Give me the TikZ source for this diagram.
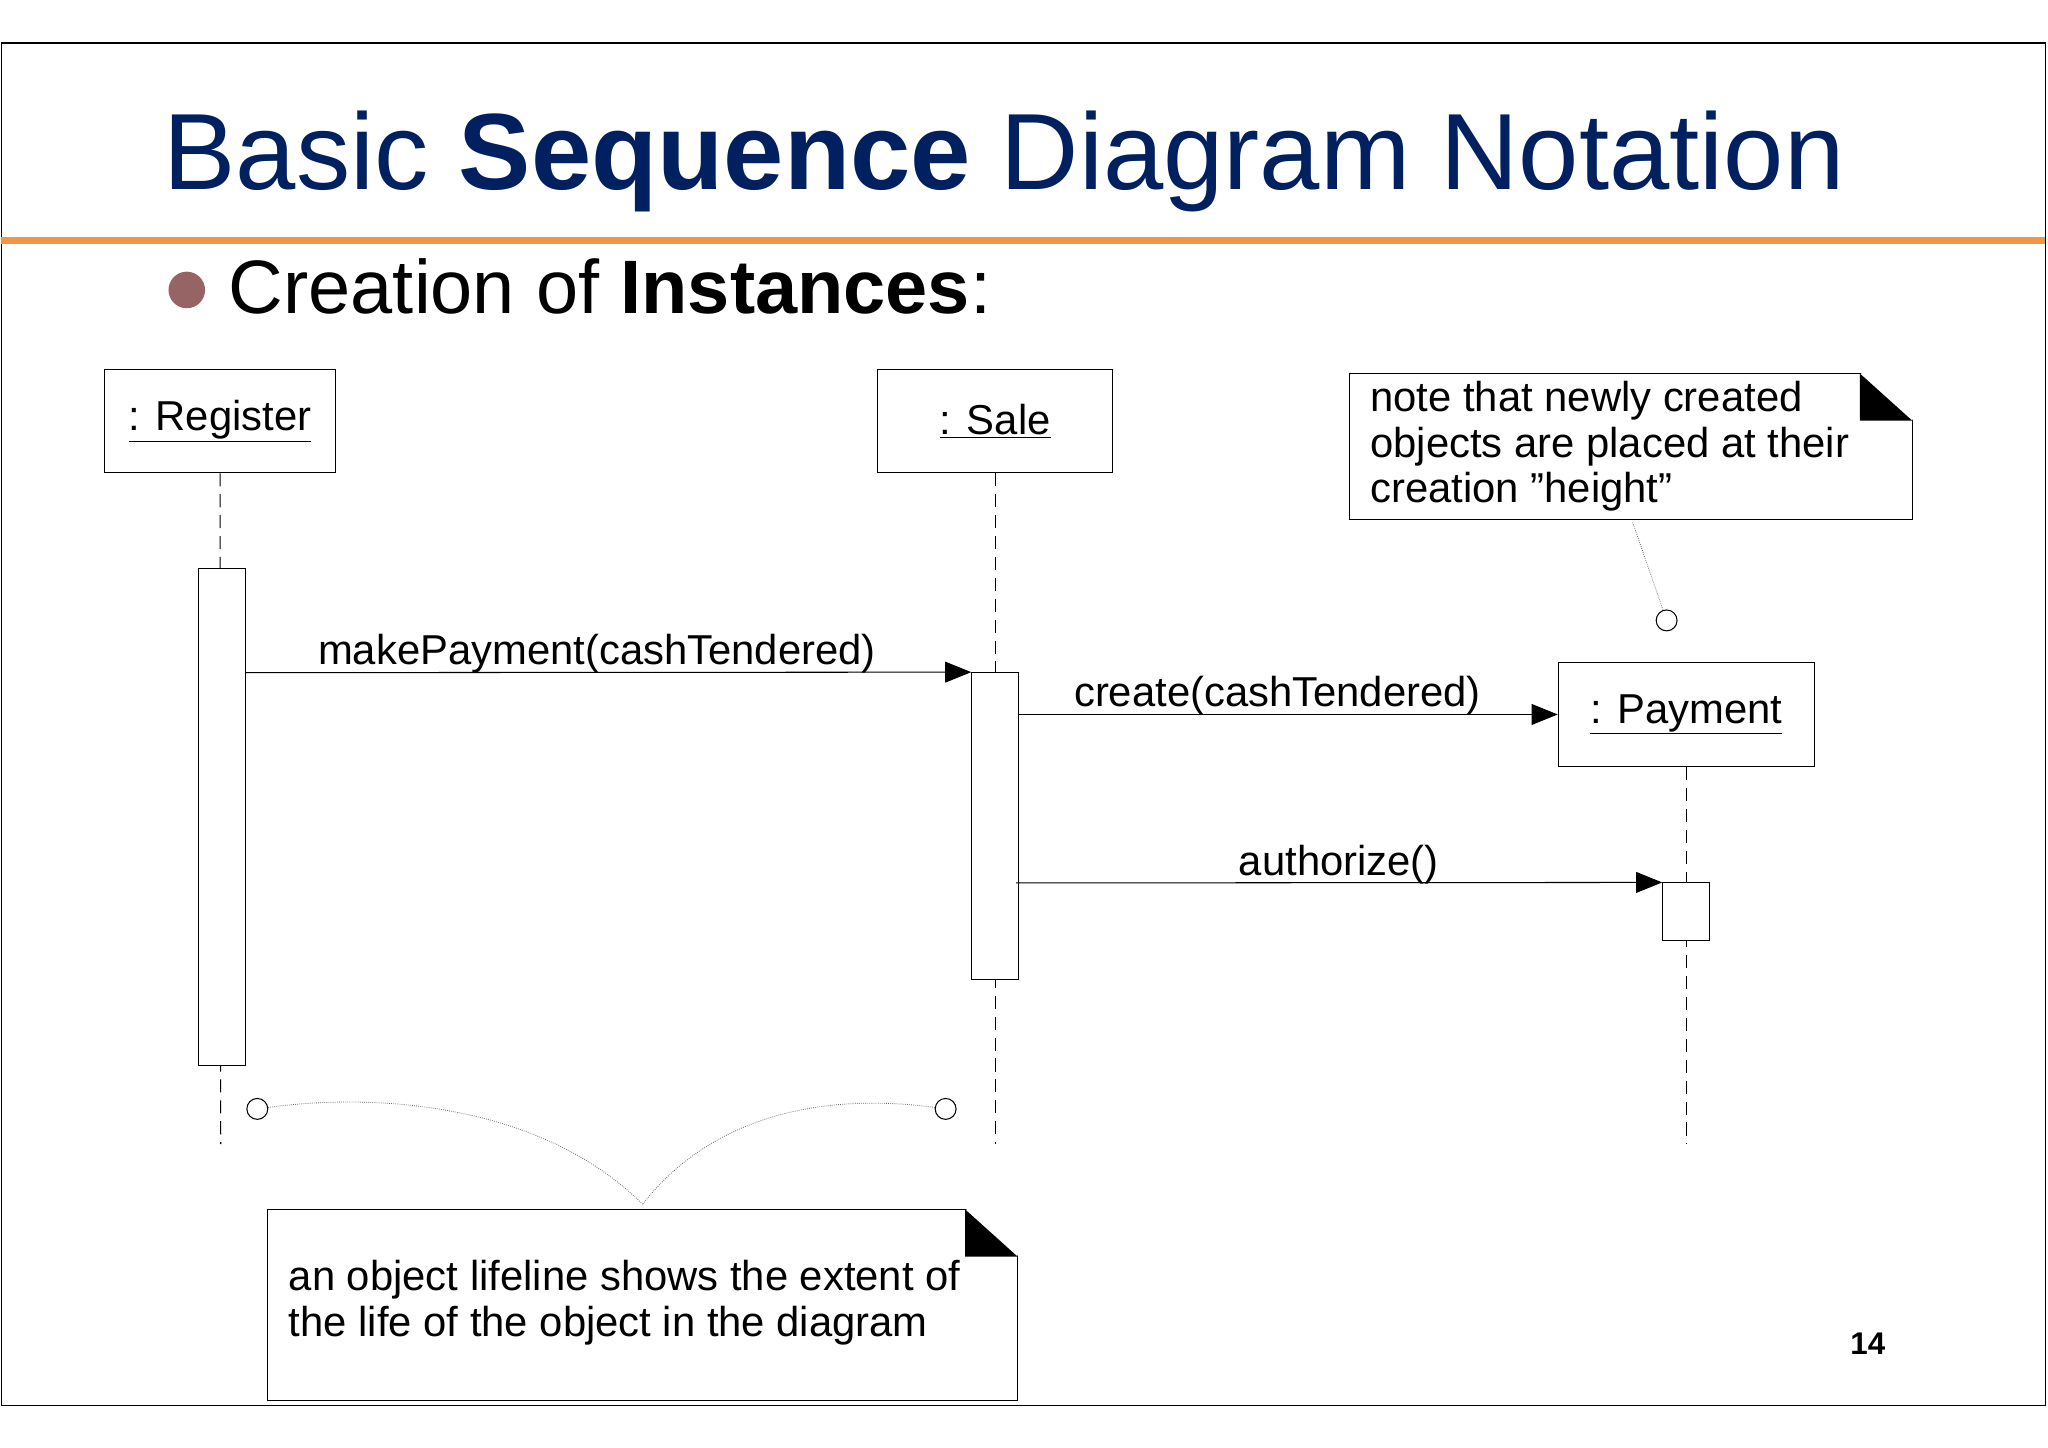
\documentclass[tikz,border=0pt]{standalone}
\usepackage{fontspec}
\setmainfont[Ligatures=NoCommon]{Liberation Sans}
\usetikzlibrary{arrows.meta}
\definecolor{navy}{RGB}{0,32,96}
\definecolor{orng}{RGB}{240,150,70}
\definecolor{bull}{RGB}{150,100,100}
\begin{document}
\begin{tikzpicture}[x=1pt,y=-1pt,
  obj/.style={draw,line width=0.8pt,fill=white,inner sep=0},
  act/.style={draw,line width=0.8pt,fill=white},
  life/.style={line width=0.8pt,dash pattern=on 10pt off 6pt},
  msg/.style={line width=0.8pt,-{Triangle[length=20pt,width=16pt]}},
  txt/.style={font=\fontsize{32}{34.5}\selectfont,inner sep=0},
  dot/.style={densely dotted,line width=0.6pt,gray!80!black},
  hole/.style={circle,draw,line width=0.8pt,minimum size=16pt,inner sep=0,fill=white}]
\useasboundingbox (0,0) rectangle (1568,1108);
\fill[white] (0,0) rectangle (1568,1108);
\draw[line width=1.2pt] (1,33) rectangle (1566,1076);
\draw[orng,line width=5pt] (1,184) -- (1566,184);
\node[anchor=base west,inner sep=0,text=navy,font=\fontsize{83}{90}\selectfont] (title) at (125,145) {Basic \textbf{Sequence} Diagram Notation};
\node[circle,fill=bull,minimum size=28pt,inner sep=0] (b) at (143,222) {};
\node[anchor=base west,inner sep=0,font=\fontsize{58}{66}\selectfont] (sub) at (175,240) {Creation of \textbf{Instances}:};
% objects
\node[obj,minimum width=177pt,minimum height=79pt] (reg) at (168.5,322.5) {};
\node[txt] at (reg) {\underline{: Register}};
\node[obj,minimum width=180pt,minimum height=79pt] (sale) at (762,322.5) {};
\node[txt] at (sale) {\underline{: Sale}};
\node[obj,minimum width=196pt,minimum height=80pt] (pay) at (1291,547) {};
\node[txt] at (pay) {\underline{: Payment}};
% lifelines
\coordinate (rE) at (169,876); \coordinate (sE) at (762,876); \coordinate (pE) at (1291,876);
\draw[life] (reg.south) -- (rE);
\draw[life] (sale.south) -- (sE);
\draw[life] (pay.south) -- (pE);
% activations
\node[act,minimum width=36pt,minimum height=381pt,inner sep=0] (ra) at (170,625.5) {};
\node[act,minimum width=36pt,minimum height=235pt,inner sep=0] (sa) at (762,632.5) {};
\node[act,minimum width=36pt,minimum height=44pt,inner sep=0] (pa) at (1291,698) {};
% messages
\draw[msg] (ra.east |- 0,515) -- (sa.north west);
\node[txt,anchor=base] at (457,509) {makePayment(cashTendered)};
\draw[msg] (sa.east |- 0,547) -- (pay.west);
\node[txt,anchor=base] at (978,541) {create(cashTendered)};
\draw[msg] (778,676) -- (pa.north west);
\node[txt,anchor=base] at (1025,670) {authorize()};
% note 1
\node[obj,minimum width=431pt,minimum height=112pt] (n1) at (1248.5,342) {};
\fill (1424,286) -- (1464,322) -- (1424,322) -- cycle;
\fill[white] (1424,285) -- (1465,285) -- (1465,322) -- cycle;
\node[txt,anchor=north west,align=left] (n1t) at (1049,292) {note that newly created\\objects are placed at their\\creation \symbol{34}height\symbol{34}};
\node[hole] (h1) at (1276,475) {};
\draw[dot] (1250,400) -- (h1);
% note 2
\node[obj,minimum width=574pt,minimum height=146pt] (n2) at (492,999) {};
\fill (739,926) -- (779,962) -- (739,962) -- cycle;
\fill[white] (739,925) -- (780,925) -- (780,962) -- cycle;
\node[txt,anchor=north west,align=left] (n2t) at (221,965) {an object lifeline shows the extent of\\the life of the object in the diagram};
\node[hole] (h2) at (197,849) {};
\node[hole] (h3) at (724,849) {};
\coordinate (m) at (492,922);
\draw[dot] (h2) .. controls (300,835) and (420,850) .. (m);
\draw[dot] (h3) .. controls (620,835) and (540,860) .. (m);
\node[anchor=base,inner sep=0,font=\fontsize{24}{28}\selectfont\bfseries] (pg) at (1430,1037) {14};
\end{tikzpicture}
\end{document}
